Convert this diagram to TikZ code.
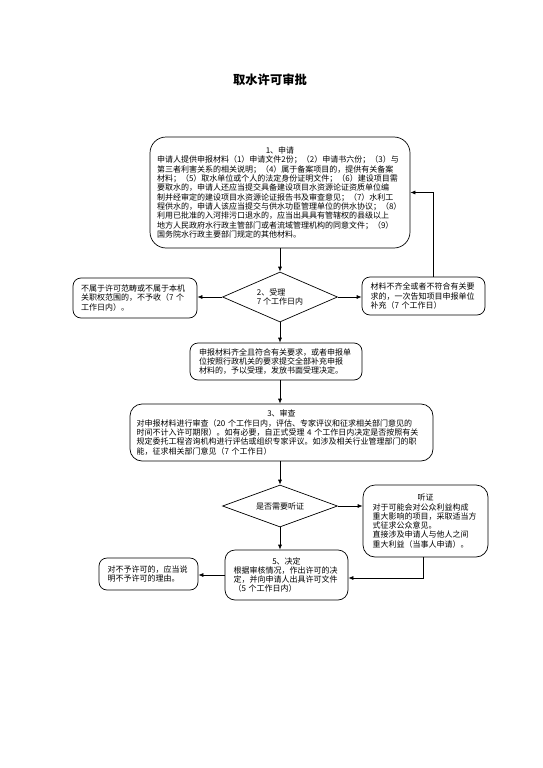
\documentclass[tikz,border=0pt]{standalone}
\usepackage{fontspec}
\setmainfont{Noto Sans CJK SC}
\usetikzlibrary{shapes.geometric, arrows.meta}
\tikzset{
  stagebox/.style={draw, line width=0.7pt, rounded corners=8pt, align=left, inner sep=0pt,
    font=\fontsize{8}{9.3}\selectfont},
  choice/.style={draw, line width=0.7pt, diamond, aspect=2.3, inner sep=0pt, align=left,
    font=\fontsize{8}{9.3}\selectfont},
  flow/.style={-{Latex[length=5pt,width=4pt]}, line width=0.7pt}
}
\newcommand{\headline}[1]{\hbox to\hsize{\hfil#1\hfil}\\}

\begin{document}
\begin{tikzpicture}[x=1pt, y=-1pt]
    \useasboundingbox (0,0) rectangle (542,768);
    \node[font=\fontsize{12.3}{14}\selectfont\bfseries] (title) at (270,80) {取水许可审批};

    % step 1
    \node[stagebox, rounded corners=16pt, minimum width=260pt, minimum height=111pt,
      text width=246pt] (apply) at (280,192.5)
      {\headline{1、申请}申请人提供申报材料（1）申请文件2份；（2）申请书六份；（3）与\\
       第三者利害关系的相关说明；（4）属于备案项目的，提供有关备案\\
       材料；（5）取水单位或个人的法定身份证明文件；（6）建设项目需\\
       要取水的，申请人还应当提交具备建设项目水资源论证资质单位编\\
       制并经审定的建设项目水资源论证报告书及审查意见；（7）水利工\\
       程供水的，申请人该应当提交与供水功臣管理单位的供水协议；（8）\\
       利用已批准的入河排污口退水的，应当出具具有管辖权的县级以上\\
       地方人民政府水行政主管部门或者流域管理机构的同意文件；（9）\\
       国务院水行政主要部门规定的其他材料。};

    % step 2
    \node[choice, minimum width=115pt, minimum height=50pt] (accept) at (280,297)
      {2、受理\\7 个工作日内};
    \node[stagebox, minimum width=124pt, minimum height=40pt, text width=108pt]
      (reject) at (135,298)
      {不属于许可范畴或不属于本机\\关职权范围的，不予收（7 个\\工作日内）。};
    \node[stagebox, minimum width=123pt, minimum height=38pt, text width=106pt]
      (supply) at (423.5,296)
      {材料不齐全或者不符合有关要\\求的，一次告知项目申报单位\\补充（7 个工作日）};
    \node[stagebox, minimum width=172pt, minimum height=37pt, text width=154pt]
      (admit) at (276,361.5)
      {申报材料齐全且符合有关要求，或者申报单\\位按照行政机关的要求提交全部补充申报\\材料的，予以受理，发放书面受理决定。};

    % step 3
    \node[stagebox, rounded corners=12pt, minimum width=303pt, minimum height=57pt,
      text width=290pt] (review) at (281.5,432.5)
      {\headline{3、审查}对申报材料进行审查（20 个工作日内，评估、专家评议和征求相关部门意见的\\
       时间不计入许可期限）。如有必要，自正式受理 4 个工作日内决定是否按照有关\\
       规定委托工程咨询机构进行评估或组织专家评议。如涉及相关行业管理部门的职\\
       能，征求相关部门意见（7 个工作日）};

    % step 4
    \node[choice, minimum width=115pt, minimum height=42pt] (needhear) at (280,506)
      {是否需要听证};
    \node[stagebox, rounded corners=12pt, minimum width=125pt, minimum height=72pt,
      text width=106pt] (hearing) at (425.5,521)
      {\headline{听证}对于可能会对公众利益构成\\重大影响的项目，采取适当方\\式征求公众意见。\\
       直接涉及申请人与他人之间\\重大利益（当事人申请）。};

    % step 5
    \node[stagebox, rounded corners=10pt, minimum width=123pt, minimum height=50pt,
      text width=106pt] (decide) at (286.5,575)
      {\headline{5、决定}根据审核情况，作出许可的决\\定，并向申请人出具许可文件\\（5 个工作日内）};
    \node[stagebox, minimum width=99pt, minimum height=32pt, text width=82pt]
      (refuse) at (148.5,574)
      {对不予许可的，应当说\\明不予许可的理由。};

    % connectors
    \draw[flow] (apply.south -| accept.north) -- (accept.north);
    \draw[flow] (accept.west) -- (accept.west -| reject.east);
    \draw[flow] (accept.east) -- (accept.east -| supply.west);
    \draw[flow] ([xshift=9.5pt]supply.north) |- (apply.east);
    \draw[flow] (accept.south) -- (accept.south |- admit.north);
    \draw[flow] (accept.south |- admit.south) -- (accept.south |- review.north);
    \draw[flow] (accept.south |- review.south) -- (needhear.north);
    \draw[flow] (needhear.east) -- (needhear.east -| hearing.west);
    \draw[flow] (needhear.south) -- (needhear.south |- decide.north);
    \draw[flow] ([xshift=-2.5pt]hearing.south) |- ([yshift=-3pt]decide.east);
    \draw[flow] (decide.west) -- (decide.west -| refuse.east);
\end{tikzpicture}
\end{document}
